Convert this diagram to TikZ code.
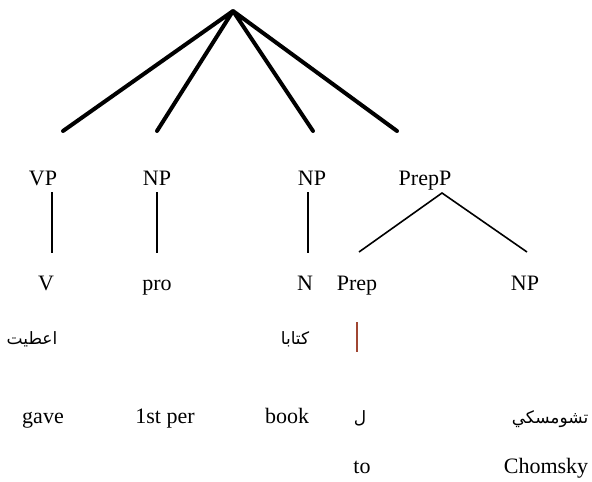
\documentclass[tikz,border=0pt]{standalone}
\usepackage{fontspec}
\setmainfont{Liberation Serif}
\newfontfamily\arabicfont[Script=Arabic]{DejaVu Sans}
\TeXXeTstate=1
\definecolor{brownline}{RGB}{160,70,50}
\begin{document}
\begin{tikzpicture}[x=1pt,y=-1pt,
  lbl/.style={anchor=base,inner sep=0pt,font=\fontsize{22}{26}\selectfont},
  arb/.style={anchor=base,inner sep=0pt,font=\arabicfont\fontsize{17}{20}\selectfont},
  thick line/.style={line width=4pt,line cap=round,line join=round},
  thin line/.style={line width=1.5pt}]
\useasboundingbox (0,0) rectangle (592,482);
% apex and thick branch ends
\coordinate (apex) at (233,11);
\coordinate (e1) at (63,131);
\coordinate (e2) at (157,131);
\coordinate (e3) at (313,131);
\coordinate (e4) at (397,131);
\draw[thick line] (e1) -- (apex) -- (e2);
\draw[thick line] (e3) -- (apex) -- (e4);
% level 1
\node[lbl] (vp) at (43,185) {VP};
\node[lbl] (np1) at (157,185) {NP};
\node[lbl] (np2) at (312,185) {NP};
\node[lbl] (prepp) at (425,185) {PrepP};
% level 2
\node[lbl] (v) at (46,290) {V};
\node[lbl] (pro) at (157,290) {pro};
\node[lbl] (n) at (305,290) {N};
\node[lbl] (prep) at (357,290) {Prep};
\node[lbl] (np3) at (525,290) {NP};
% vertical connectors
\coordinate (vpT) at (52,192); \coordinate (vB) at (52,253);
\coordinate (np1T) at (157,192); \coordinate (proB) at (157,253);
\coordinate (np2T) at (308,192); \coordinate (nB) at (308,253);
\draw[thin line] (vpT) -- (vB);
\draw[thin line] (np1T) -- (proB);
\draw[thin line] (np2T) -- (nB);
% PrepP branches
\coordinate (ppT) at (442,193);
\coordinate (prepB) at (359,252);
\coordinate (np3B) at (527,252);
\draw[line width=1.6pt] (prepB) -- (ppT) -- (np3B);
% arabic row
\node[arb] (ar1) at (32,344) {\beginR اعطيت\endR};
\node[arb] (ar2) at (295,344) {\beginR كتابا\endR};
\coordinate (bT) at (357,322); \coordinate (bB) at (357,352);
\draw[brownline,line width=1.2pt] (bT) -- (bB);
% gloss row
\node[lbl] (gave) at (43,423) {gave};
\node[lbl] (per) at (165,423) {1st per};
\node[lbl] (book) at (287,423) {book};
\node[arb] (lam) at (360,423) {\beginR ل\endR};
\node[arb] (chomar) at (550,423) {\beginR تشومسكي\endR};
% translation row
\node[lbl] (to) at (362,473) {to};
\node[lbl] (chom) at (546,473) {Chomsky};
\end{tikzpicture}
\end{document}
